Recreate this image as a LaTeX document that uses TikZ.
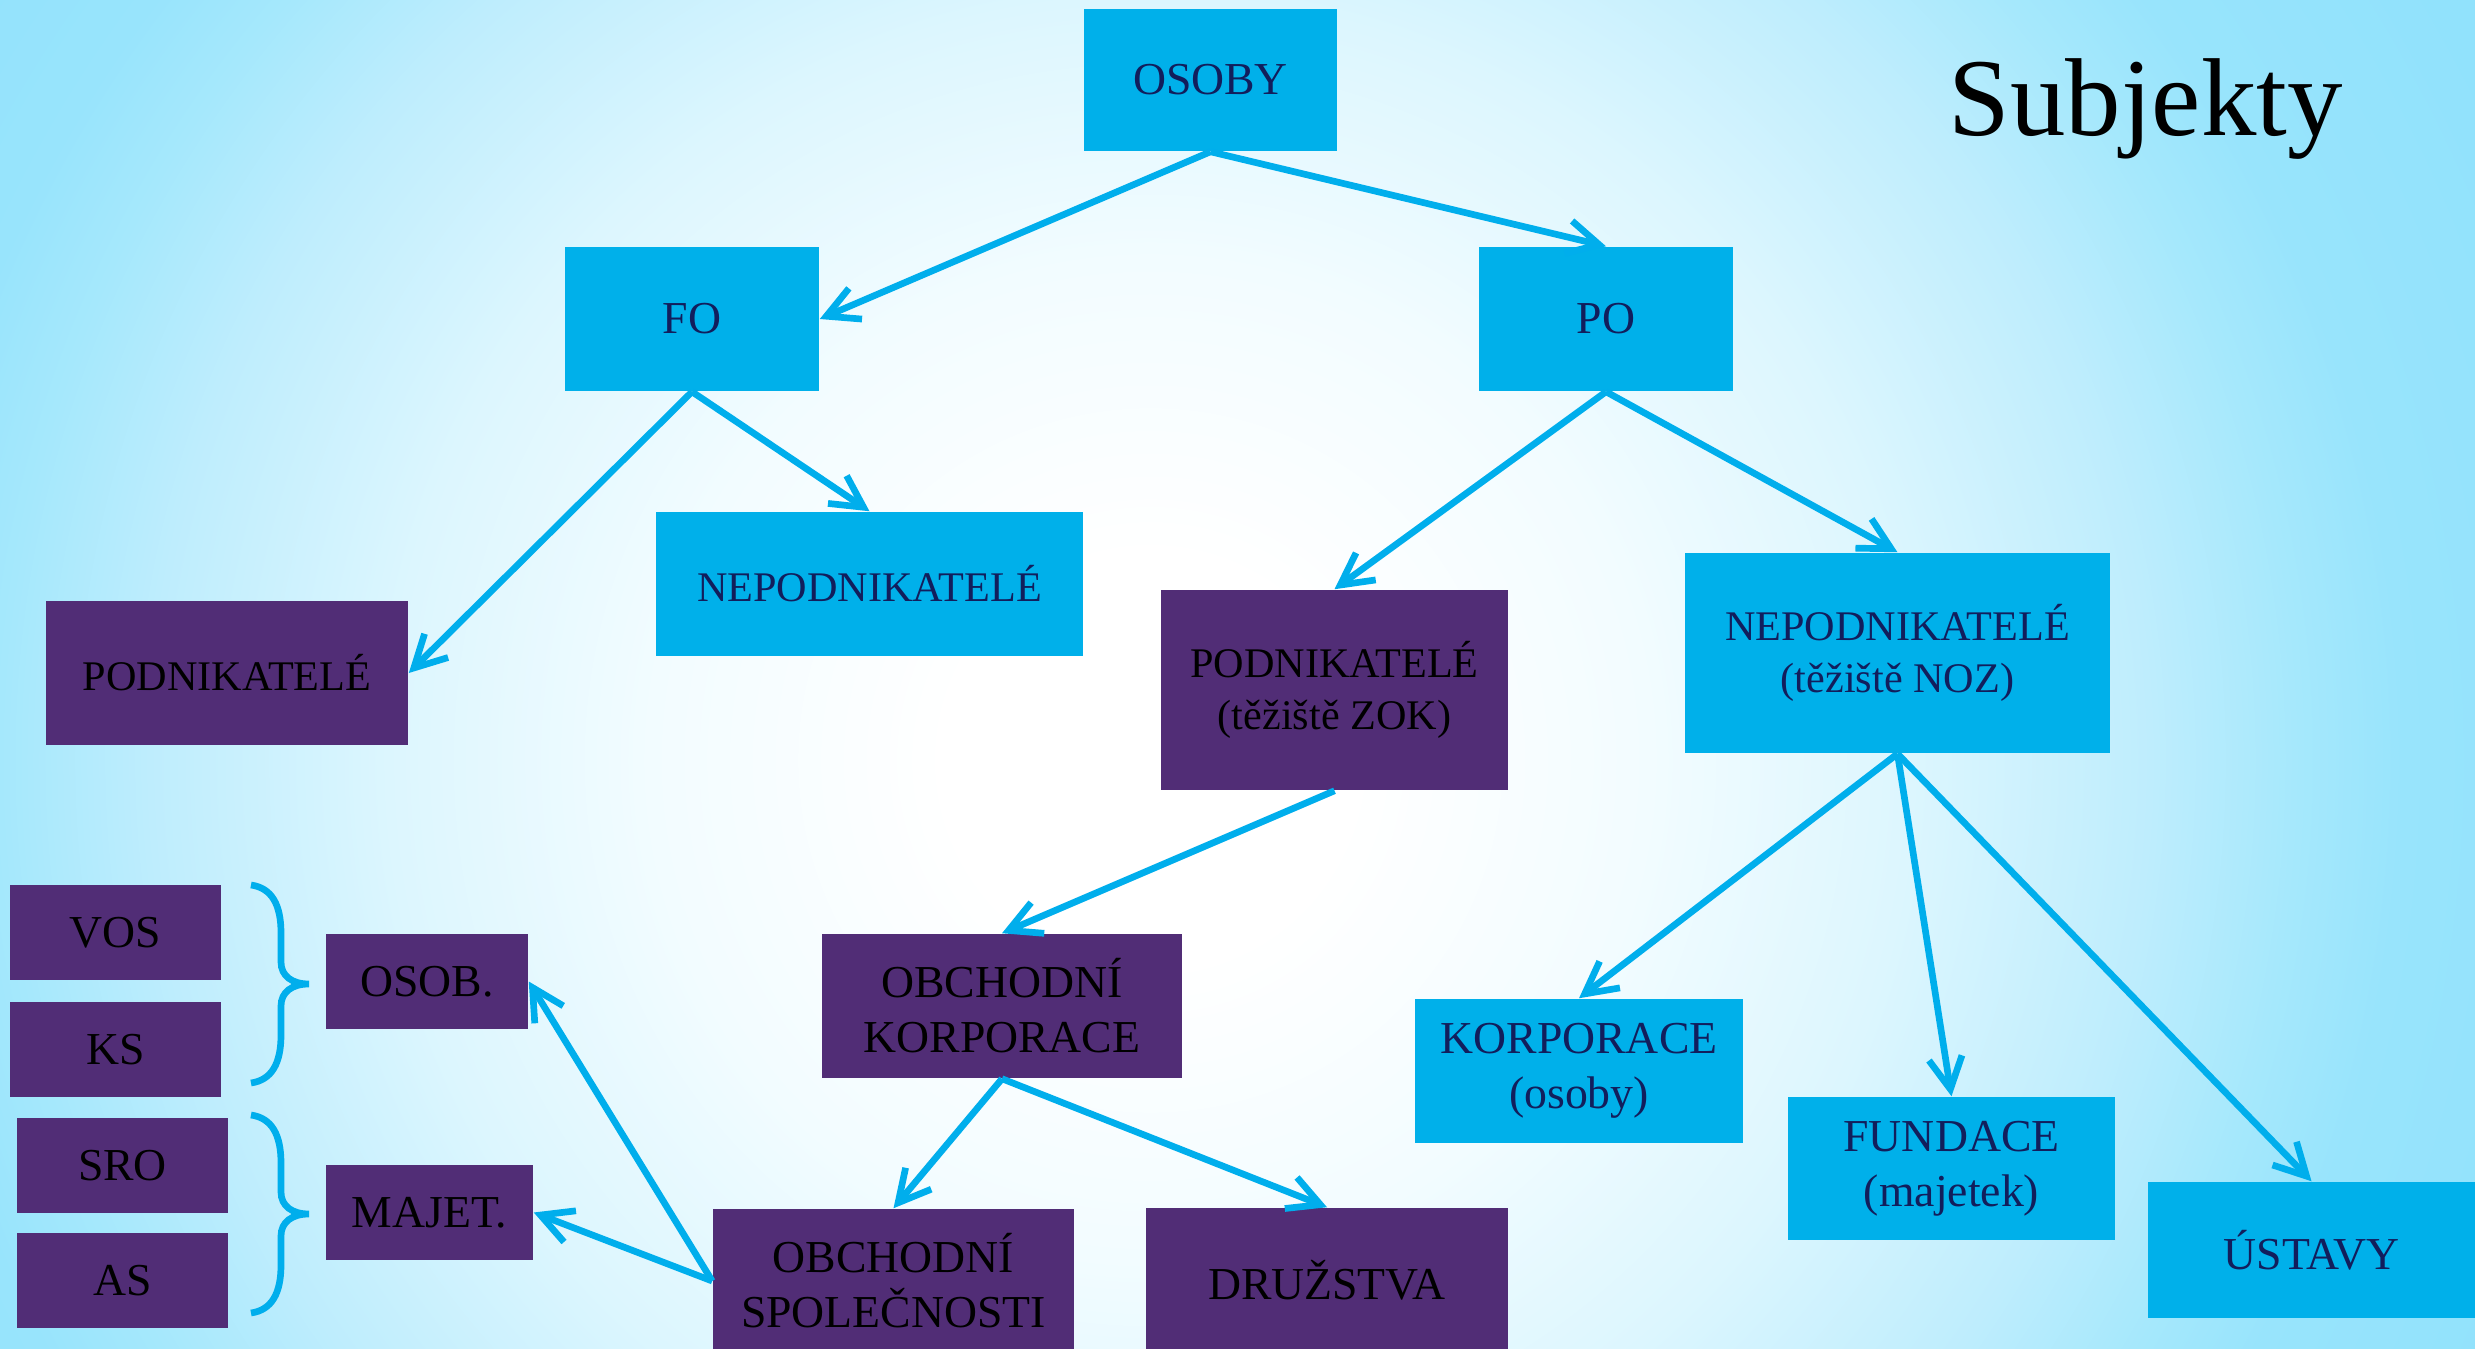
\documentclass[tikz,border=0pt]{standalone}
\usepackage{fontspec}
\setmainfont{Liberation Serif}
\usetikzlibrary{arrows.meta}
\definecolor{bluebox}{RGB}{0,176,234}
\definecolor{purplebox}{RGB}{81,45,118}
\definecolor{navytext}{RGB}{18,30,92}
\definecolor{arrowblue}{RGB}{0,174,236}
\definecolor{bgB}{RGB}{242,252,255}
\definecolor{bgC}{RGB}{220,246,254}
\definecolor{bgD}{RGB}{190,237,253}
\definecolor{bgE}{RGB}{165,232,252}
\definecolor{bgF}{RGB}{152,228,252}
\definecolor{bgG}{RGB}{145,226,252}
\pgfdeclareradialshading{bgshade}{\pgfpoint{0bp}{0bp}}{color(0bp)=(white); color(3bp)=(white); color(7.35bp)=(bgB); color(11.2bp)=(bgC); color(14.7bp)=(bgD); color(16.9bp)=(bgE); color(18.4bp)=(bgF); color(22bp)=(bgG); color(50bp)=(bgG)}
\tikzset{
  bx/.style={draw=none, inner sep=0pt, align=center, font=\fontsize{13}{15.6}\selectfont},
  bluebx/.style={bx, fill=bluebox, text=navytext},
  purplebx/.style={bx, fill=purplebox, text=black},
  smallfont/.style={font=\fontsize{12}{15}\selectfont},
  arr/.style={draw=arrowblue, line width=1.9pt, -{Straight Barb[length=9pt,width=9.5pt]}},
  brc/.style={draw=arrowblue, line width=1.9pt},
}
\begin{document}
\begin{tikzpicture}[x=0.01cm, y=-0.01cm]
\useasboundingbox (0,0) rectangle (2475,1349);
\begin{scope}
\clip (0,0) rectangle (2475,1349);
\shade[shading=bgshade] (1150,760) circle[radius=17cm];
\end{scope}

\node[anchor=base west, inner sep=0pt, font=\fontsize{31.5}{36}\selectfont] (title) at (1948,136) {Subjekty};

% blue boxes
\node[bluebx, minimum width=2.53cm, minimum height=1.42cm] (osoby) at (1210.5,80) {OSOBY};
\node[bluebx, minimum width=2.54cm, minimum height=1.44cm] (fo) at (692,319) {FO};
\node[bluebx, minimum width=2.54cm, minimum height=1.44cm] (po) at (1606,319) {PO};
\node[bluebx, smallfont, minimum width=4.26cm, minimum height=1.44cm] (nepfo) at (869.5,584) {NEPODNIKATELÉ};
\node[bluebx, smallfont, minimum width=4.25cm, minimum height=2.0cm] (nepnoz) at (1897.5,653) {NEPODNIKATELÉ\\(těžiště NOZ)};
\node[bluebx, minimum width=3.28cm, minimum height=1.44cm] (korp) at (1579,1071) {KORPORACE\\(osoby)};
\node[bluebx, minimum width=3.27cm, minimum height=1.43cm] (fund) at (1951.5,1168.5) {FUNDACE\\(majetek)};
\node[bluebx, minimum width=3.27cm, minimum height=1.36cm] (ust) at (2311.5,1250) {ÚSTAVY};

% purple boxes
\node[purplebx, smallfont, minimum width=3.62cm, minimum height=1.44cm] (podfo) at (227,673) {PODNIKATELÉ};
\node[purplebx, smallfont, minimum width=3.47cm, minimum height=2.0cm] (podzok) at (1334.5,690) {PODNIKATELÉ\\(těžiště ZOK)};
\node[purplebx, minimum width=3.60cm, minimum height=1.44cm] (obkorp) at (1002,1006) {OBCHODNÍ\\KORPORACE};
\node[purplebx, minimum width=3.61cm, minimum height=1.44cm] (obspol) at (893.5,1281) {OBCHODNÍ\\SPOLEČNOSTI};
\node[purplebx, minimum width=3.62cm, minimum height=1.44cm] (druz) at (1327,1280) {DRUŽSTVA};
\node[purplebx, minimum width=2.11cm, minimum height=0.95cm] (vos) at (115.5,932.5) {VOS};
\node[purplebx, minimum width=2.11cm, minimum height=0.95cm] (ks) at (115.5,1049.5) {KS};
\node[purplebx, minimum width=2.11cm, minimum height=0.95cm] (sro) at (122.5,1165.5) {SRO};
\node[purplebx, minimum width=2.11cm, minimum height=0.95cm] (as) at (122.5,1280.5) {AS};
\node[purplebx, minimum width=2.02cm, minimum height=0.95cm] (osob) at (427,981.5) {OSOB.};
\node[purplebx, minimum width=2.07cm, minimum height=0.95cm] (majet) at (429.5,1212.5) {MAJET.};

% braces
\draw[brc] (251,885) .. controls (272,888) and (281,905) .. (281,933) -- (281,962)
  .. controls (281,976) and (292,984) .. (309,984)
  .. controls (292,984) and (281,992) .. (281,1006) -- (281,1035)
  .. controls (281,1063) and (272,1080) .. (251,1083);
\draw[brc] (251,1115) .. controls (272,1118) and (281,1135) .. (281,1163) -- (281,1192)
  .. controls (281,1206) and (292,1214) .. (309,1214)
  .. controls (292,1214) and (281,1222) .. (281,1236) -- (281,1265)
  .. controls (281,1293) and (272,1310) .. (251,1313);

% connectors
\draw[arr] (osoby.south) -- (fo.east);
\draw[arr] (osoby.south) -- (po.north);
\draw[arr] (fo.south) -- (podfo.east);
\draw[arr] (fo.south) -- (nepfo.north);
\draw[arr] (po.south) -- (podzok.north);
\draw[arr] (po.south) -- (nepnoz.north);
\draw[arr] (podzok.south) -- (obkorp.north);
\draw[arr] (nepnoz.south) -- (korp.north);
\draw[arr] (nepnoz.south) -- (fund.north);
\draw[arr] (nepnoz.south) -- (ust.north);
\draw[arr] (obkorp.south) -- (obspol.north);
\draw[arr] (obkorp.south) -- (druz.north);
\draw[arr] (obspol.west) -- (osob.east);
\draw[arr] (obspol.west) -- (majet.east);
\end{tikzpicture}
\end{document}
